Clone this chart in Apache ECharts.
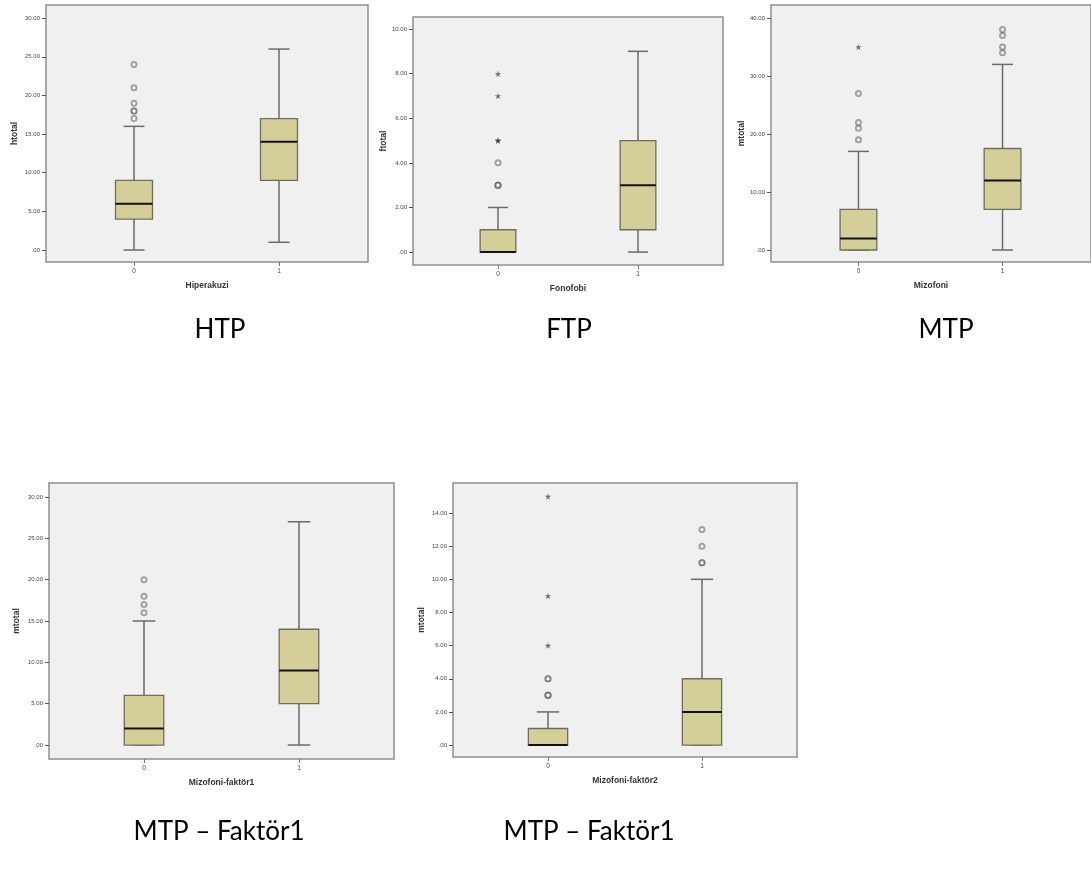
<!DOCTYPE html>
<html><head><meta charset="utf-8">
<script src="https://cdn.jsdelivr.net/npm/echarts@6/dist/echarts.min.js"></script>
<style>html,body{margin:0;padding:0;background:#fff}#c{width:1091px;height:887px}</style>
</head><body><div id="c"></div>
<script>
// ---------- DATA ----------
const categories = ['0', '1'];
const captions = ['HTP', 'FTP', 'MTP', 'MTP – Faktör1', 'MTP – Faktör1'];
const yTitles = ['htotal', 'ftotal', 'mtotal', 'mtotal', 'mtotal'];
const xTitles = ['Hiperakuzi', 'Fonofobi', 'Mizofoni', 'Mizofoni-faktör1', 'Mizofoni-faktör2'];

// five-number summaries [min, Q1, median, Q3, max] per group (0, 1)
const htpBoxes = [[0, 4, 6, 9, 16], [1, 9, 14, 17, 26]];
const ftpBoxes = [[0, 0, 0, 1, 2], [0, 1, 3, 5, 9]];
const mtpBoxes = [[0, 0, 2, 7, 17], [0, 7, 12, 17.5, 32]];
const f1Boxes = [[0, 0, 2, 6, 15], [0, 5, 9, 14, 27]];
const f2Boxes = [[0, 0, 0, 1, 2], [0, 0, 2, 4, 10]];

// outliers (circles) per group
const htpOutliers = [[17, 18, 18, 19, 21, 24], []];
const ftpOutliers = [[3, 3, 3, 4], []];
const mtpOutliers = [[19, 21, 22, 27], [34, 35, 37, 38]];
const f1Outliers = [[16, 17, 18, 20], []];
const f2Outliers = [[3, 3, 3, 4, 4], [11, 11, 12, 13]];

// extremes (stars) per group
const htpExtremes = [[], []];
const ftpExtremes = [[5, 5, 7, 8], []];
const mtpExtremes = [[35], []];
const f1Extremes = [[], []];
const f2Extremes = [[6, 9, 15], []];

// y tick labels
const htpTickLabels = ['.00', '5.00', '10.00', '15.00', '20.00', '25.00', '30.00'];
const ftpTickLabels = ['.00', '2.00', '4.00', '6.00', '8.00', '10.00'];
const mtpTickLabels = ['.00', '10.00', '20.00', '30.00', '40.00'];
const f1TickLabels = ['.00', '5.00', '10.00', '15.00', '20.00', '25.00', '30.00'];
const f2TickLabels = ['.00', '2.00', '4.00', '6.00', '8.00', '10.00', '12.00', '14.00'];

// ---------- LAYOUT ----------
const panels = [
  { boxes: htpBoxes, out: htpOutliers, ext: htpExtremes, ticks: htpTickLabels,
    grid: { left: 46, top: 5, width: 322, height: 257 }, x: [-0.607, 1.614], y: [-1.55, 31.7], yGap: 27, cap: [220, 330] },
  { boxes: ftpBoxes, out: ftpOutliers, ext: ftpExtremes, ticks: ftpTickLabels,
    grid: { left: 413, top: 17, width: 310, height: 248 }, x: [-0.607, 1.607], y: [-0.58, 10.54], yGap: 25, cap: [569, 330] },
  { boxes: mtpBoxes, out: mtpOutliers, ext: mtpExtremes, ticks: mtpTickLabels,
    grid: { left: 771, top: 5, width: 322, height: 257 }, x: [-0.607, 1.614], y: [-2.07, 42.24], yGap: 25, cap: [946, 330] },
  { boxes: f1Boxes, out: f1Outliers, ext: f1Extremes, ticks: f1TickLabels,
    grid: { left: 49, top: 483, width: 345, height: 276 }, x: [-0.613, 1.613], y: [-1.69, 31.69], yGap: 28, cap: [219, 832] },
  { boxes: f2Boxes, out: f2Outliers, ext: f2Extremes, ticks: f2TickLabels,
    grid: { left: 453, top: 483, width: 344, height: 274 }, x: [-0.617, 1.617], y: [-0.72, 15.81], yGap: 27, cap: [589, 832] }
];

const STAR = 'path://M50,0 L61,35 L98,35 L68,57 L79,91 L50,70 L21,91 L32,57 L2,35 L39,35 Z';
const tickFont = 'Liberation Sans, Arial, sans-serif';

const grids = [], xAxes = [], yAxes = [], series = [], graphics = [];

panels.forEach((p, i) => {
  grids.push(Object.assign({ show: true, backgroundColor: '#f0f0f0', borderColor: '#8f8f8f', borderWidth: 1.5 }, p.grid));
  const tickVals = p.ticks.map(parseFloat);
  xAxes.push({
    gridIndex: i, type: 'value', min: p.x[0], max: p.x[1], position: 'bottom',
    name: xTitles[i], nameLocation: 'middle', nameGap: 19,
    nameTextStyle: { fontFamily: tickFont, fontWeight: 'bold', fontSize: 8.5, color: '#333' },
    axisLine: { show: false, onZero: false }, splitLine: { show: false },
    axisTick: { show: true, customValues: [0, 1], length: 4, lineStyle: { color: '#777', width: 1 } },
    axisLabel: { customValues: [0, 1], margin: 6, fontFamily: tickFont, fontSize: 6.5, color: '#444',
      formatter: v => categories[Math.round(v)] }
  });
  yAxes.push({
    gridIndex: i, type: 'value', min: p.y[0], max: p.y[1], position: 'left',
    name: yTitles[i], nameLocation: 'middle', nameGap: p.yGap, nameRotate: 90,
    nameTextStyle: { fontFamily: tickFont, fontWeight: 'bold', fontSize: 8.5, color: '#333' },
    axisLine: { show: false, onZero: false }, splitLine: { show: false },
    axisTick: { show: true, customValues: tickVals, length: 4, lineStyle: { color: '#555', width: 1 } },
    axisLabel: { customValues: tickVals, margin: 6, fontFamily: tickFont, fontSize: 6, color: '#444',
      formatter: v => p.ticks[tickVals.indexOf(v)] }
  });
  // boxes
  series.push({
    type: 'custom', xAxisIndex: i, yAxisIndex: i,
    data: p.boxes.map((b, g) => [g].concat(b)),
    renderItem: (params, api) => {
      const x = api.value(0);
      const band = api.size([1, 0])[0];
      const bw = band * 0.255, cw = band * 0.145;
      const pt = v => api.coord([x, v]);
      const pMin = pt(api.value(1)), pQ1 = pt(api.value(2)), pMed = pt(api.value(3)),
            pQ3 = pt(api.value(4)), pMax = pt(api.value(5));
      const cx = pMin[0];
      const wStyle = { stroke: '#6a6a6a', lineWidth: 1.5 };
      return { type: 'group', children: [
        { type: 'line', shape: { x1: cx, y1: pMin[1], x2: cx, y2: pQ1[1] }, style: wStyle },
        { type: 'line', shape: { x1: cx, y1: pQ3[1], x2: cx, y2: pMax[1] }, style: wStyle },
        { type: 'line', shape: { x1: cx - cw / 2, y1: pMin[1], x2: cx + cw / 2, y2: pMin[1] }, style: wStyle },
        { type: 'line', shape: { x1: cx - cw / 2, y1: pMax[1], x2: cx + cw / 2, y2: pMax[1] }, style: wStyle },
        { type: 'rect', shape: { x: cx - bw / 2, y: pQ3[1], width: bw, height: pQ1[1] - pQ3[1] },
          style: { fill: '#d4cf98', stroke: '#6f6e5c', lineWidth: 1.3 } },
        { type: 'line', shape: { x1: cx - bw / 2, y1: pMed[1], x2: cx + bw / 2, y2: pMed[1] },
          style: { stroke: '#111', lineWidth: 2 } }
      ]};
    },
    z: 2
  });
  // outliers
  const outData = [];
  p.out.forEach((arr, g) => arr.forEach(v => outData.push([g, v])));
  series.push({
    type: 'scatter', xAxisIndex: i, yAxisIndex: i, data: outData,
    symbol: 'emptyCircle', symbolSize: 5,
    itemStyle: { color: 'rgba(70,70,70,0.6)', borderWidth: 1.1 }, z: 3, silent: true
  });
  const extData = [];
  p.ext.forEach((arr, g) => arr.forEach(v => extData.push([g, v])));
  series.push({
    type: 'scatter', xAxisIndex: i, yAxisIndex: i, data: extData,
    symbol: STAR, symbolSize: 6.5,
    itemStyle: { color: 'rgba(40,40,40,0.8)' }, z: 3, silent: true
  });
  graphics.push({
    type: 'text', x: p.cap[0], y: p.cap[1],
    style: { text: captions[i], font: '26px Lato, "Open Sans", sans-serif', fill: '#000',
      align: 'center', verticalAlign: 'middle', textAlign: 'center', textVerticalAlign: 'middle' }
  });
});

const chart = echarts.init(document.getElementById('c'), null, { renderer: 'canvas' });
chart.setOption({
  animation: false,
  grid: grids, xAxis: xAxes, yAxis: yAxes, series: series,
  graphic: { elements: graphics }
});
</script></body></html>
